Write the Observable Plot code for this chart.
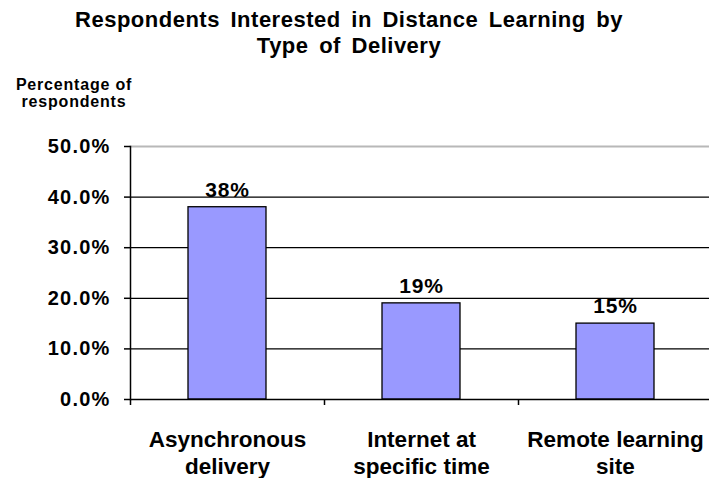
<!DOCTYPE html>
<html><head><meta charset="utf-8">
<script src="https://cdn.jsdelivr.net/npm/d3@7"></script>
<script src="https://cdn.jsdelivr.net/npm/@observablehq/plot@0.6"></script>
<style>
body{margin:0;background:#fff;overflow:hidden}
#wrap{position:relative;width:709px;height:478px;font-family:"Liberation Sans",Arial,sans-serif;font-weight:bold;color:#000}
.t{position:absolute;white-space:nowrap;text-align:center}
#title{left:0;width:698px;top:7px;font-size:22px;line-height:26px;letter-spacing:0.5px;word-spacing:4px}
#ylab{left:0;width:148px;top:76px;font-size:16px;line-height:17px;letter-spacing:0.8px}
#chart{position:absolute;left:0;top:0}
</style></head><body>
<div id="wrap">
<div id="chart"></div>
<div class="t" id="title"></div>
<div class="t" id="ylab"></div>
</div>
<script>
const titleLines = ["Respondents Interested in Distance Learning by", "Type of Delivery"];
const yLabelLines = ["Percentage of", "respondents"];
const categories = ["Asynchronous delivery", "Internet at specific time", "Remote learning site"];
const categoryLines = [["Asynchronous", "delivery"], ["Internet at", "specific time"], ["Remote learning", "site"]];
const values = [38, 19, 15];
const valueLabels = ["38%", "19%", "15%"];
const yTicks = [0, 10, 20, 30, 40, 50];
const yTickLabels = ["0.0%", "10.0%", "20.0%", "30.0%", "40.0%", "50.0%"];

document.getElementById("title").innerHTML = titleLines.join("<br>");
document.getElementById("ylab").innerHTML = yLabelLines.join("<br>");

const data = categories.map((c, i) => ({c, v: values[i], label: valueLabels[i], lines: categoryLines[i].join("\n")}));

const xRange = [130, 712];
const halfStep = (xRange[1] - xRange[0]) / categories.length / 2;

const plot = Plot.plot({
  width: 709, height: 478,
  marginTop: 146, marginBottom: 79, marginLeft: 130, marginRight: 0,
  style: {fontFamily: "'Liberation Sans', Arial, sans-serif", fontWeight: "bold", color: "#000", background: "transparent"},
  x: {domain: categories, range: xRange, paddingInner: 0.6, paddingOuter: 0.3, axis: null},
  y: {domain: [0, 50], axis: null},
  marks: [
    Plot.ruleY(yTicks.filter(t => t > 0 && t < 50), {stroke: "#000", strokeWidth: 1.2}),
    Plot.ruleY([50], {stroke: "#b8b8b8", strokeWidth: 2}),
    Plot.barY(data, {x: "c", y: "v", fill: "#9999ff", stroke: "#000", strokeWidth: 1.3}),
    Plot.ruleY([0], {stroke: "#000", strokeWidth: 1.5}),
    Plot.frame({anchor: "left", stroke: "#000", strokeWidth: 1.5}),
    Plot.ruleX(data, {x: "c", dx: -halfStep, y1: 0, y2: 0, insetBottom: -6, stroke: "#000", strokeWidth: 1.5}),
    Plot.axisY({ticks: yTicks, tickFormat: d => yTickLabels[yTicks.indexOf(d)], tickSize: 6, tickPadding: 14, fontSize: 20, label: null, stroke: "#000", strokeWidth: 1.5}),
    Plot.text(data, {x: "c", y: "v", text: "label", dy: -17, fontSize: 21, fontWeight: "bold", fill: "#000"}),
    Plot.text(data, {x: "c", text: "lines", frameAnchor: "bottom", lineAnchor: "top", dy: 28, fontSize: 22.5, lineHeight: 1.2, fontWeight: "bold", fill: "#000"})
  ]
});
d3.select(plot).selectAll("g[aria-label='y-axis tick label'] text").style("letter-spacing", "1.2px");
d3.select(plot).selectAll("g[aria-label='text']").filter((d, i) => i === 0).selectAll("text").style("letter-spacing", "0.8px");
document.getElementById("chart").appendChild(plot);
</script>
</body></html>
